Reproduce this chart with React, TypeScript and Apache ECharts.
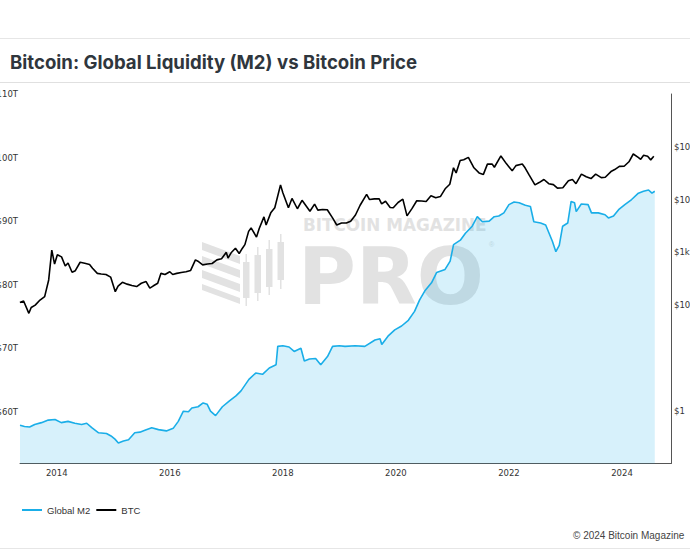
import React, { useEffect, useRef } from "react";
import * as echarts from "echarts";

// ---- Data ----
const xTickYears = [2014, 2016, 2018, 2020, 2022, 2024];
const m2TickValues = [60, 70, 80, 90, 100, 110];
const btcTickValues = [1, 100, 1000, 10000, 100000];
const btcTickLabels = ["$1", "$100", "$1k", "$10k", "$100k"];

// Global M2 (trillions USD), time as decimal year
const m2Years = [
  2013.35, 2013.43, 2013.52, 2013.61, 2013.73, 2013.85, 2013.97, 2014.08, 2014.2, 2014.32,
  2014.44, 2014.53, 2014.62, 2014.74, 2014.88, 2014.96, 2015.03, 2015.09, 2015.18, 2015.27,
  2015.38, 2015.47, 2015.56, 2015.68, 2015.8, 2015.94, 2016.06, 2016.15, 2016.24, 2016.33,
  2016.39, 2016.5, 2016.59, 2016.66, 2016.72, 2016.81, 2016.93, 2017.05, 2017.17, 2017.26,
  2017.4, 2017.52, 2017.64, 2017.76, 2017.88, 2017.91, 2018.0, 2018.11, 2018.2, 2018.32,
  2018.38, 2018.47, 2018.58, 2018.67, 2018.79, 2018.88, 2019.0, 2019.1, 2019.28, 2019.45,
  2019.63, 2019.72, 2019.75, 2019.86, 2019.98, 2020.1, 2020.22, 2020.33, 2020.42, 2020.51,
  2020.63, 2020.72, 2020.87, 2020.96, 2021.02, 2021.14, 2021.23, 2021.35, 2021.44, 2021.53,
  2021.65, 2021.74, 2021.82, 2021.91, 2022.0, 2022.09, 2022.18, 2022.29, 2022.38, 2022.44,
  2022.56, 2022.65, 2022.71, 2022.77, 2022.83, 2022.89, 2022.95, 2023.04, 2023.1, 2023.16,
  2023.19, 2023.28, 2023.4, 2023.46, 2023.58, 2023.7, 2023.76, 2023.85, 2023.94, 2024.05,
  2024.17, 2024.29, 2024.38, 2024.47, 2024.53, 2024.58,
];
const m2Values = [
  57.9, 57.7, 57.6, 58.0, 58.3, 58.7, 58.8, 58.3, 58.5, 58.2,
  58.0, 58.2, 57.5, 56.7, 56.6, 56.2, 55.7, 55.1, 55.4, 55.6,
  56.7, 56.8, 57.1, 57.5, 57.2, 57.0, 57.4, 58.5, 60.1, 60.0,
  60.6, 60.8, 61.4, 61.2, 60.1, 59.4, 60.8, 61.7, 62.5, 63.3,
  65.1, 66.1, 65.9, 66.9, 67.4, 70.3, 70.4, 70.2, 69.5, 70.0,
  68.0, 68.3, 68.4, 67.4, 68.7, 70.3, 70.4, 70.3, 70.4, 70.3,
  71.3, 71.5, 70.6, 71.9, 72.9, 73.5, 74.4, 75.8, 77.6, 79.0,
  80.3, 81.9, 82.4, 83.7, 86.3, 87.0, 88.1, 89.2, 90.7, 89.9,
  90.0, 90.7, 90.8, 91.3, 92.6, 93.0, 92.9, 92.5, 92.3, 89.9,
  89.7, 89.4, 88.1, 86.8, 85.2, 86.2, 89.2, 89.7, 93.1, 92.9,
  91.5, 92.7, 92.6, 91.3, 91.3, 91.0, 90.5, 90.8, 91.8, 92.6,
  93.4, 94.4, 94.7, 94.9, 94.4, 94.7,
];

// BTC price (USD)
const btcDates = [
  "2013-05-08", "2013-06-01", "2013-07-05", "2013-07-20", "2013-08-15", "2013-09-15", "2013-10-15", "2013-11-10", "2013-11-30", "2013-12-18",
  "2014-01-05", "2014-02-01", "2014-02-25", "2014-03-15", "2014-04-10", "2014-05-01", "2014-06-01", "2014-07-01", "2014-08-01", "2014-08-20",
  "2014-09-20", "2014-10-15", "2014-11-15", "2014-12-15", "2015-01-14", "2015-02-01", "2015-03-01", "2015-04-01", "2015-05-01", "2015-06-01",
  "2015-07-01", "2015-08-01", "2015-08-25", "2015-09-15", "2015-10-15", "2015-11-05", "2015-12-01", "2016-01-01", "2016-01-20", "2016-02-15",
  "2016-03-15", "2016-04-15", "2016-05-15", "2016-06-15", "2016-07-01", "2016-08-01", "2016-09-01", "2016-10-01", "2016-11-01", "2016-12-01",
  "2017-01-01", "2017-01-12", "2017-02-01", "2017-03-01", "2017-03-25", "2017-04-15", "2017-05-01", "2017-05-25", "2017-06-10", "2017-07-15",
  "2017-08-01", "2017-09-01", "2017-09-15", "2017-10-15", "2017-11-10", "2017-12-17", "2018-01-01", "2018-02-06", "2018-03-01", "2018-04-05",
  "2018-05-05", "2018-06-25", "2018-07-25", "2018-08-15", "2018-09-15", "2018-10-15", "2018-11-20", "2018-12-15", "2019-01-15", "2019-02-15",
  "2019-03-15", "2019-04-15", "2019-05-15", "2019-06-26", "2019-07-15", "2019-08-15", "2019-09-15", "2019-10-01", "2019-10-26", "2019-11-25",
  "2019-12-15", "2020-01-15", "2020-02-15", "2020-03-13", "2020-04-15", "2020-05-15", "2020-06-15", "2020-07-15", "2020-08-15", "2020-09-15",
  "2020-10-15", "2020-11-15", "2020-12-15", "2021-01-08", "2021-01-25", "2021-02-20", "2021-03-15", "2021-04-14", "2021-05-20", "2021-06-22",
  "2021-07-20", "2021-08-15", "2021-09-15", "2021-09-29", "2021-11-10", "2021-12-15", "2022-01-22", "2022-02-15", "2022-03-28", "2022-04-15",
  "2022-05-12", "2022-06-18", "2022-07-15", "2022-08-15", "2022-09-15", "2022-10-15", "2022-11-10", "2022-12-15", "2023-01-20", "2023-02-15",
  "2023-03-10", "2023-04-14", "2023-05-15", "2023-06-15", "2023-07-15", "2023-08-20", "2023-09-15", "2023-10-25", "2023-11-15", "2023-12-15",
  "2024-01-15", "2024-02-15", "2024-03-14", "2024-04-15", "2024-05-01", "2024-05-20", "2024-06-15", "2024-07-05", "2024-07-25",
];
const btcValues = [
  112, 120, 70, 90, 100, 125, 145, 300, 1100, 600,
  900, 820, 550, 630, 420, 450, 650, 620, 590, 500,
  400, 390, 380, 340, 180, 230, 270, 250, 235, 225,
  260, 280, 210, 230, 260, 400, 380, 430, 380, 400,
  415, 430, 455, 720, 680, 580, 600, 615, 720, 760,
  1000, 780, 980, 1200, 950, 1200, 1400, 2500, 2900, 1950,
  2800, 4700, 3300, 5600, 7000, 19000, 13500, 7000, 10500, 6700,
  9700, 6000, 8200, 6300, 6500, 6400, 4400, 3300, 3600, 3600,
  3900, 5100, 7800, 12500, 10000, 10300, 10300, 8300, 9300, 7100,
  7000, 8800, 10200, 4900, 6800, 9500, 9400, 9200, 11800, 10800,
  11400, 16000, 19500, 40000, 32000, 55000, 57000, 63000, 40000, 32000,
  30000, 47000, 47000, 41000, 67000, 48000, 35000, 44000, 47000, 40000,
  29000, 19000, 21000, 24000, 20000, 19200, 16500, 16800, 22700, 24000,
  20000, 30400, 27000, 25000, 30300, 26000, 26500, 34500, 37000, 42500,
  42800, 52000, 73000, 63000, 58000, 69000, 66000, 56500, 66000,
];

const toYear = (d: string) => {
  const [y, m, dd] = d.split("-").map(Number);
  const s = Date.UTC(y, 0, 1);
  const e = Date.UTC(y + 1, 0, 1);
  return y + (Date.UTC(y, m - 1, dd) - s) / (e - s);
};

const M2_COLOR = "#1aaee8";
const AXIS_FONT = "DejaVu Sans";

export default function App() {
  const ref = useRef<HTMLDivElement>(null);

  useEffect(() => {
    if (!ref.current) return;
    const chart = echarts.init(ref.current, undefined, { renderer: "svg" });
    const m2Data = m2Years.map((x, i) => [x, m2Values[i]]);
    const btcData = btcDates.map((d, i) => [toYear(d), btcValues[i]]);
    const wm = "#e2e2e2";
    const wmFont = "'DejaVu Sans'";

    chart.setOption({
      animation: false,
      backgroundColor: "#ffffff",
      title: {
        text: "Bitcoin: Global Liquidity (M2) vs Bitcoin Price",
        left: 10,
        top: 51,
        padding: 0,
        textStyle: {
          fontFamily: "Inter",
          fontSize: 18.6,
          fontWeight: 700,
          color: "#2f363d",
          lineHeight: 22,
        },
      },
      legend: {
        left: 22,
        top: 505,
        padding: 0,
        itemWidth: 20,
        itemHeight: 2,
        itemGap: 6,
        data: [
          { name: "Global M2", icon: "rect" },
          { name: "BTC", icon: "rect" },
        ],
        textStyle: { fontFamily: "Liberation Sans", fontSize: 9.5, color: "#333" },
      },
      grid: { left: 20, right: 19, top: 94, bottom: 86.5, containLabel: false, outerBoundsMode: "none" },
      xAxis: {
        type: "value",
        min: 2013.35,
        max: 2024.867,
        axisLine: { show: true, lineStyle: { color: "#555", width: 1 } },
        axisTick: { show: false },
        splitLine: { show: false },
        axisLabel: {
          customValues: xTickYears,
          formatter: (v: number) => String(Math.round(v)),
          margin: 5,
          fontFamily: AXIS_FONT,
          fontSize: 8.5,
          color: "#333",
        },
      },
      yAxis: [
        {
          type: "value",
          position: "left",
          min: 51.87,
          max: 110,
          axisLine: { show: false },
          axisTick: { show: false },
          splitLine: { show: false },
          axisLabel: {
            customValues: m2TickValues,
            formatter: (v: number) => `$${v}T`,
            margin: 2,
            fontFamily: AXIS_FONT,
            fontSize: 8.5,
            color: "#333",
          },
        },
        {
          type: "log",
          logBase: 10,
          position: "right",
          min: 0.1,
          max: 1000000,
          axisLine: { show: true, lineStyle: { color: "#555", width: 1 } },
          axisTick: { show: false },
          splitLine: { show: false },
          axisLabel: {
            customValues: btcTickValues,
            formatter: (v: number) => {
              const i = btcTickValues.findIndex((t) => Math.abs(t - v) / t < 1e-6);
              return i >= 0 ? btcTickLabels[i] : "";
            },
            margin: 3,
            fontFamily: AXIS_FONT,
            fontSize: 8.5,
            color: "#333",
          },
        },
      ],
      graphic: [
        { type: "line", z: 0, shape: { x1: 0, y1: 38.5, x2: 690, y2: 38.5 }, style: { stroke: "#e6e6e6", lineWidth: 1 } },
        { type: "line", z: 0, shape: { x1: 0, y1: 82.5, x2: 690, y2: 82.5 }, style: { stroke: "#e0e0e0", lineWidth: 1 } },
        { type: "line", z: 0, shape: { x1: 0, y1: 548.5, x2: 690, y2: 548.5 }, style: { stroke: "#e6e6e6", lineWidth: 1 } },
        {
          type: "text",
          left: 573,
          top: 530,
          style: { text: "© 2024 Bitcoin Magazine", font: "10px 'Liberation Sans'", fill: "#444" },
        },
        // watermark
        {
          type: "group",
          z: 0,
          children: [
            { type: "polygon", shape: { points: [[202, 242], [240, 256], [240, 264], [202, 250]] }, style: { fill: wm } },
            { type: "polygon", shape: { points: [[202, 256], [240, 270], [240, 278], [202, 264]] }, style: { fill: wm } },
            { type: "polygon", shape: { points: [[202, 270], [240, 284], [240, 292], [202, 278]] }, style: { fill: wm } },
            { type: "polygon", shape: { points: [[202, 284], [240, 298], [240, 304], [202, 290]] }, style: { fill: wm } },
            { type: "rect", shape: { x: 245.5, y: 254, width: 1.5, height: 52 }, style: { fill: wm } },
            { type: "rect", shape: { x: 243, y: 262, width: 6.5, height: 36 }, style: { fill: wm } },
            { type: "rect", shape: { x: 257, y: 247, width: 1.5, height: 54 }, style: { fill: wm } },
            { type: "rect", shape: { x: 254.5, y: 255, width: 6.5, height: 38 }, style: { fill: wm } },
            { type: "rect", shape: { x: 268.5, y: 240, width: 1.5, height: 55 }, style: { fill: wm } },
            { type: "rect", shape: { x: 266, y: 249, width: 6.5, height: 38 }, style: { fill: wm } },
            { type: "rect", shape: { x: 280, y: 234, width: 1.5, height: 55 }, style: { fill: wm } },
            { type: "rect", shape: { x: 277.5, y: 242, width: 6.5, height: 38 }, style: { fill: wm } },
            {
              type: "text",
              x: 303,
              y: 224.5,
              style: { text: "BITCOIN MAGAZINE", font: `bold 16.8px ${wmFont}`, fill: wm, textVerticalAlign: "middle" },
            },
            { type: "text", x: 298, y: 276.5, style: { text: "PRO", font: `bold 79px ${wmFont}`, fill: wm, textVerticalAlign: "middle" } },
            { type: "text", x: 489, y: 244, style: { text: "®", font: "7px 'Liberation Sans'", fill: wm, textVerticalAlign: "middle" } },
          ],
        },
      ],
      series: [
        {
          name: "Global M2",
          type: "line",
          xAxisIndex: 0,
          yAxisIndex: 0,
          data: m2Data,
          showSymbol: false,
          symbol: "none",
          color: M2_COLOR,
          lineStyle: { color: M2_COLOR, width: 1.6 },
          areaStyle: { color: "rgba(26,174,232,0.25)", origin: "start" },
          z: 3,
        },
        {
          name: "BTC",
          type: "line",
          xAxisIndex: 0,
          yAxisIndex: 1,
          data: btcData,
          showSymbol: false,
          symbol: "none",
          color: "#000000",
          lineStyle: { color: "#000000", width: 1.6 },
          z: 4,
        },
      ],
    });

    return () => chart.dispose();
  }, []);

  return (
    <div
      ref={ref}
      style={{ position: "fixed", left: 0, top: 0, width: 690, height: 550, background: "#fff" }}
    />
  );
}
